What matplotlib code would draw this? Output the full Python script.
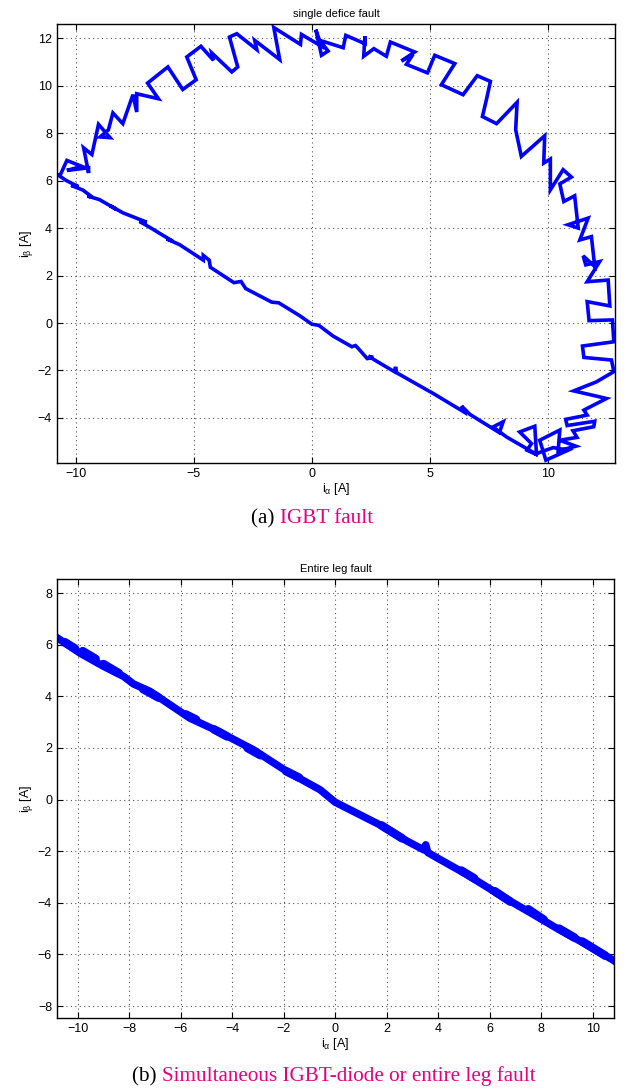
import numpy as np
import matplotlib.pyplot as plt

plt.rcParams['font.family'] = ['Liberation Sans', 'DejaVu Sans']
plt.rcParams['mathtext.fontset'] = 'custom'
plt.rcParams['mathtext.rm'] = 'Liberation Sans'
plt.rcParams['mathtext.it'] = 'Liberation Sans'
plt.rcParams['mathtext.default'] = 'regular'

# (a) IGBT fault: stator current trajectory, zigzag arc then the straight segment back
arc_x = [-10.67, -10.38, -9.75, -10.38, -9.46, -9.46, -9.67, -9.32, -9.04, -8.55,
         -8.97, -8.62, -8.43, -8.01, -7.58, -7.42, -7.42, -6.50, -6.96, -6.10,
         -5.47, -4.90, -5.30, -4.70, -4.17, -4.24, -3.39, -3.14, -3.49, -3.18,
         -2.33, -2.42, -1.36, -1.61, -0.48, -0.44, 0.41, 0.17, 0.41, 0.69,
         0.34, 1.33, 1.44, 2.25, 2.25, 2.20, 2.63, 3.16, 3.33, 4.36,
         3.80, 4.29, 4.01, 4.90, 5.21, 6.06, 5.49, 6.41, 7.01, 7.57,
         7.40, 7.23, 7.83, 8.70, 8.64, 8.88, 9.87, 9.83, 10.11, 10.11,
         10.65, 11.00, 10.51, 10.68, 11.14, 11.29, 10.86, 11.71, 11.36, 11.85,
         11.99, 11.50, 11.61, 12.20, 11.67, 12.56, 12.63, 11.67, 11.75, 12.74,
         12.80, 11.47, 11.53, 12.70, 12.80, 12.06, 11.10, 12.49, 11.53, 11.67,
         10.76, 10.82, 11.99, 11.95, 11.07, 11.24, 10.51, 11.19, 10.44, 10.51,
         9.66, 9.92, 10.86, 10.23, 9.52, 9.45, 8.81, 9.31, 9.12, 9.59]
arc_y = [6.22, 6.85, 6.60, 6.43, 6.54, 6.32, 7.38, 7.10, 8.37, 7.81,
         7.84, 8.14, 8.85, 8.40, 9.62, 8.89, 9.66, 9.45, 10.11, 10.79,
         9.84, 10.25, 11.21, 11.66, 11.07, 11.38, 10.58, 10.79, 12.05, 12.19,
         11.52, 11.91, 11.10, 12.45, 11.74, 12.16, 11.66, 12.36, 11.28, 11.46,
         11.91, 11.60, 12.12, 11.77, 12.08, 11.24, 11.56, 11.24, 11.84, 11.42,
         11.04, 11.32, 10.90, 10.54, 11.28, 10.93, 10.04, 9.62, 10.42, 10.18,
         9.41, 8.70, 8.40, 9.30, 8.14, 7.02, 7.89, 6.74, 6.91, 5.61,
         6.46, 6.15, 5.86, 5.12, 5.36, 4.00, 4.14, 4.42, 3.50, 3.64,
         2.38, 2.83, 2.45, 2.59, 1.74, 1.81, 0.72, 0.90, 0.10, 0.13,
         -0.79, -0.97, -1.45, -1.56, -2.05, -2.48, -2.86, -3.18, -3.67, -3.88,
         -4.06, -4.32, -4.14, -4.37, -4.54, -4.82, -4.94, -5.19, -5.39, -4.51,
         -4.94, -5.78, -5.36, -5.25, -5.50, -4.35, -4.59, -5.08, -5.36, -5.57]
line_x = [9.59, 8.25, 7.68, 8.11, 7.95, 6.70, 6.35, 6.45, 5.20, 3.60,
          3.55, 3.50, 2.90, 2.40, 2.60, 2.35, 1.95, 1.85, 1.70, 0.90,
          0.30, 0.00, -0.50, -1.40, -1.70, -2.80, -3.00, -3.30, -4.30, -4.35,
          -4.60, -4.60, -5.60, -6.16, -5.90, -6.90, -7.30, -7.00, -8.00, -8.56,
          -8.30, -9.00, -9.50, -9.30, -9.70, -10.20, -9.90, -10.40, -11.00]
line_y = [-5.57, -4.80, -4.38, -4.16, -4.62, -3.85, -3.50, -3.75, -3.00, -2.10,
          -1.85, -2.05, -1.70, -1.40, -1.45, -1.50, -1.05, -0.95, -1.00, -0.55,
          -0.10, -0.05, 0.30, 0.85, 0.88, 1.45, 1.75, 1.70, 2.35, 2.65,
          2.85, 2.65, 3.30, 3.55, 3.45, 4.05, 4.28, 4.25, 4.64, 4.95,
          4.80, 5.20, 5.35, 5.30, 5.60, 5.80, 5.75, 6.00, 6.40]

# (b) entire leg fault: trajectory collapses onto one line
leg_x = [-11.0, -10.78, -9.90, -8.99, -8.21, -7.83, -7.18, -5.63, -4.53, -3.17,
         -1.87, -0.58, 0.00, 1.88, 2.78, 3.45, 3.52, 3.60, 3.95, 5.11, 6.40,
         7.70, 8.60, 9.64, 10.80, 11.0]
leg_y = [6.40, 6.26, 5.67, 5.16, 4.77, 4.48, 4.19, 3.15, 2.64, 1.93,
         1.09, 0.38, -0.10, -1.05, -1.60, -1.95, -1.75, -2.05, -2.25, -2.90, -3.70,
         -4.45, -4.98, -5.55, -6.22, -6.36]
blob_x = [(-10.5, -10.1), (-9.8, -9.3), (-9.0, -8.4), (-7.45, -6.85), (-5.8, -5.4),
          (-4.7, -4.2), (-3.4, -2.9), (-1.9, -1.4), (1.8, 2.6), (4.9, 5.4),
          (6.2, 6.8), (7.5, 8.1), (8.7, 9.3), (9.6, 10.5)]
blob_y = [(6.10, 5.85), (5.75, 5.45), (5.25, 4.90), (4.28, 3.95), (3.30, 3.10),
          (2.72, 2.45), (2.00, 1.72), (1.10, 0.85), (-1.00, -1.50), (-2.75, -3.05),
          (-3.55, -3.95), (-4.25, -4.65), (-5.00, -5.35), (-5.50, -6.05)]

blue = '#0000ff'
pink = '#e6007e'

fig = plt.figure(figsize=(6.24, 10.9), dpi=100)
ax1 = fig.add_axes([0.0913, 0.5752, 0.8943, 0.4028])
ax2 = fig.add_axes([0.0913, 0.0661, 0.8926, 0.4028])

ax1.plot(arc_x + line_x, arc_y + line_y, color=blue, lw=2.6, solid_joinstyle='miter')
ax1.set_xlim(-10.8, 12.85)
ax1.set_ylim(-5.9, 12.6)
ax1.set_xticks([-10, -5, 0, 5, 10])
ax1.set_yticks(np.arange(-4, 13, 2))
ax1.set_title('single defice fault', fontsize=8, pad=5)

ax2.plot(leg_x, leg_y, color=blue, lw=5.4, solid_capstyle='round')
for bx, by in zip(blob_x, blob_y):
    ax2.plot(bx, by, color=blue, lw=6.2, solid_capstyle='round')
ax2.set_xlim(-10.8, 10.83)
ax2.set_ylim(-8.46, 8.55)
ax2.set_xticks(np.arange(-10, 11, 2))
ax2.set_yticks(np.arange(-8, 9, 2))
ax2.set_title('Entire leg fault', fontsize=8, pad=5)

for ax in (ax1, ax2):
    ax.grid(True, linestyle=(0, (1, 3)), color='#555555', lw=0.8)
    ax.tick_params(direction='in', top=True, right=True, labelsize=9, length=4)
    ax.set_xlabel(r'i$_{\alpha}$ [A]', fontsize=9, labelpad=1)
    ax.set_ylabel(r'i$_{\beta}$ [A]', fontsize=9, labelpad=2)
    for s in ax.spines.values():
        s.set_linewidth(1.0)

# figure captions, label in black and description in magenta
serif = ['Liberation Serif', 'DejaVu Serif']
t1 = fig.text(0.403, 1 - 523 / 1090, '(a) ', fontsize=15.2, family=serif)
ax1.annotate('IGBT fault', xy=(1, 0), xycoords=t1, fontsize=15.2, family=serif,
             color=pink, va='bottom', annotation_clip=False)
t2 = fig.text(0.212, 1 - 1081 / 1090, '(b) ', fontsize=15.2, family=serif)
ax2.annotate('Simultaneous IGBT-diode or entire leg fault', xy=(1, 0), xycoords=t2,
             fontsize=15.2, family=serif, color=pink, va='bottom', annotation_clip=False)

fig.savefig('out.png', dpi=100)
